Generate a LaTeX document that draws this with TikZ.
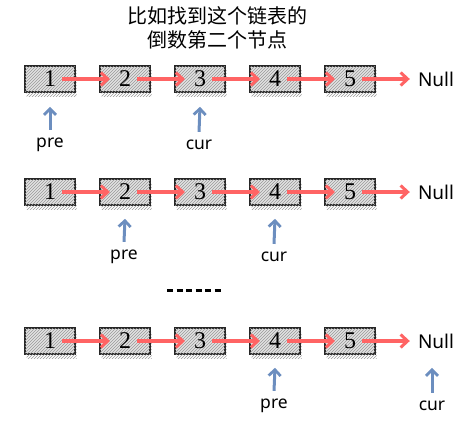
\documentclass[tikz,border=0pt]{standalone}
\usepackage{fontspec}
\newfontfamily\cjk{Noto Sans CJK SC}
\newfontfamily\ptrfont{Noto Sans}
\newfontfamily\numfont{Liberation Serif}
\usetikzlibrary{arrows.meta,patterns,shadows}
\definecolor{linkred}{RGB}{255,100,100}
\definecolor{ptrblue}{RGB}{108,142,191}
\begin{document}
\begin{tikzpicture}[x=1pt,y=-1pt,
    listnode/.style={draw=black!85,line width=1.6pt,fill=gray!22,
      minimum width=50pt,minimum height=26pt,inner sep=0pt,
      font=\numfont\fontsize{24}{24}\selectfont,
      postaction={pattern=north east lines,pattern color=gray!80},
      general shadow={shadow xshift=1.5pt,shadow yshift=-4pt,
        pattern=north east lines,pattern color=gray!80}},
    nextarrow/.style={-{Straight Barb[length=7pt,width=13pt,line width=3pt]},line width=3.4pt,draw=linkred},
    ptrarrow/.style={-{Straight Barb[length=6pt,width=12pt,line width=2.8pt]},line width=3pt,draw=ptrblue},
    nulltext/.style={inner sep=0pt,font=\ptrfont\fontsize{19}{19}\selectfont},
    ptrtext/.style={inner sep=0pt,font=\ptrfont\fontsize{17.5}{17.5}\selectfont} ]
    \useasboundingbox (0,0) rectangle (471,429);
    % title
    \node at (217,28) [align=center,font=\cjk\fontsize{20}{24}\selectfont] (title)
      {比如找到这个链表的\\倒数第二个节点};
    % three copies of the list
    \foreach \r/\y in {a/79,b/192,c/341} {
      \node at (50,\y) [listnode] (\r1) {1};
      \node at (125,\y) [listnode] (\r2) {2};
      \node at (200,\y) [listnode] (\r3) {3};
      \node at (275,\y) [listnode] (\r4) {4};
      \node at (350,\y) [listnode] (\r5) {5};
      \node at (436,\y) [nulltext] (\r null) {Null};
      \draw [nextarrow] ([xshift=12pt]\r1.center) to ([xshift=-15pt]\r2.center);
      \draw [nextarrow] ([xshift=12pt]\r2.center) to ([xshift=-15pt]\r3.center);
      \draw [nextarrow] ([xshift=12pt]\r3.center) to ([xshift=-15pt]\r4.center);
      \draw [nextarrow] ([xshift=12pt]\r4.center) to ([xshift=-15pt]\r5.center);
      \draw [nextarrow,shorten >=8pt] ([xshift=12pt]\r5.center) to (\r null.west);
    }
    % pointers, first step
    \node at (50,145) [ptrtext] (apre) {pre};
    \node at (199,145) [ptrtext] (acur) {cur};
    \draw [ptrarrow] ([yshift=8pt]apre.north) to ([yshift=-14pt]a1.south);
    \draw [ptrarrow] ([yshift=8pt]acur.north) to ([yshift=-14pt]a3.south);
    % pointers, second step
    \node at (124,257) [ptrtext] (bpre) {pre};
    \node at (274,257) [ptrtext] (bcur) {cur};
    \draw [ptrarrow] ([yshift=8pt]bpre.north) to ([yshift=-13pt]b2.south);
    \draw [ptrarrow] ([yshift=8pt]bcur.north) to ([yshift=-13pt]b4.south);
    % pointers, last step
    \node at (274,406) [ptrtext] (cpre) {pre};
    \node at (432,406) [ptrtext] (ccur) {cur};
    \draw [ptrarrow] ([yshift=8pt]cpre.north) to ([yshift=-13pt]c4.south);
    \draw [ptrarrow] ([yshift=8pt]ccur.north) to ([yshift=-13pt]c5.south -| ccur.north);
    % skipped steps
    \draw [line width=3pt,dash pattern=on 6pt off 3.5pt] (167,290) -- (222,290);
\end{tikzpicture}
\end{document}
